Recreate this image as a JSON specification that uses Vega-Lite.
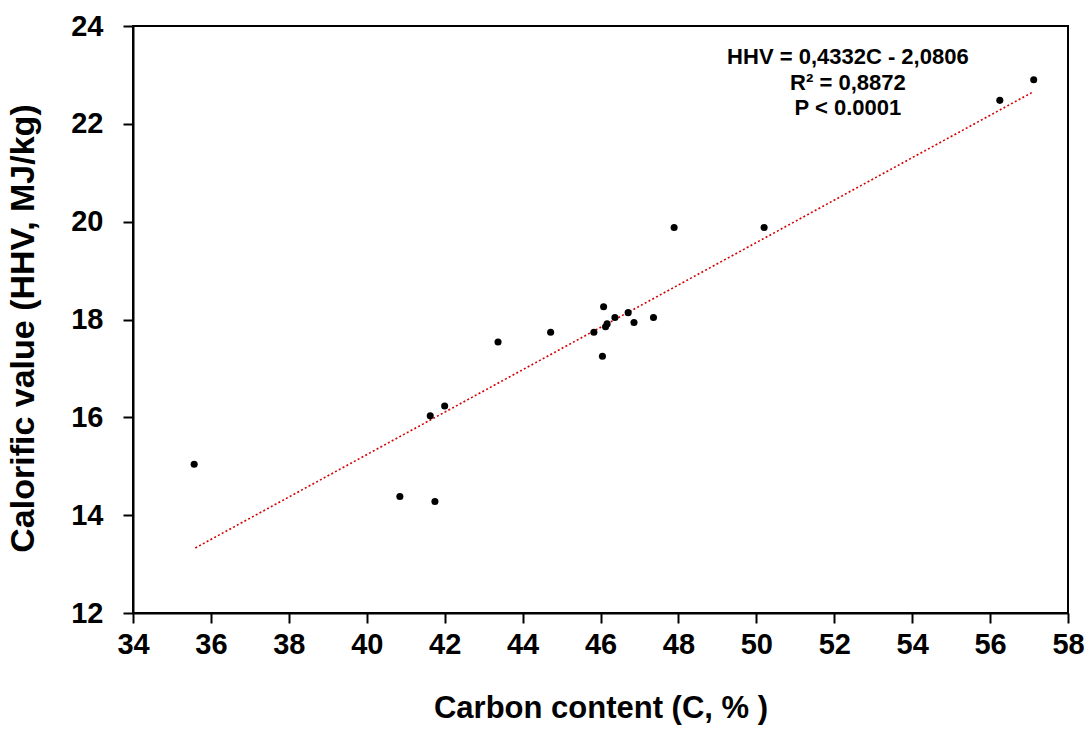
{
  "$schema": "https://vega.github.io/schema/vega-lite/v6.json",
  "autosize": "none",
  "width": 935,
  "height": 587,
  "padding": {"left": 133, "top": 26, "right": 24, "bottom": 118},
  "background": "white",
  "config": {
    "font": "Liberation Sans",
    "view": {"stroke": "black", "strokeWidth": 2},
    "axis": {
      "grid": false,
      "domainColor": "black",
      "domainWidth": 2,
      "tickColor": "black",
      "tickWidth": 2,
      "tickSize": 10,
      "labelFont": "Liberation Sans",
      "labelFontSize": 29,
      "labelFontWeight": "bold",
      "labelColor": "black",
      "titleFont": "Liberation Sans",
      "titleFontWeight": "bold",
      "titleColor": "black"
    }
  },
  "layer": [
    {
      "data": {"values": [
        {"C": 35.6, "HHV": 13.33},
        {"C": 57.12, "HHV": 22.66}
      ]},
      "mark": {"type": "line", "color": "#d40000", "strokeWidth": 1.6, "strokeDash": [2, 2.3]},
      "encoding": {
        "x": {"field": "C", "type": "quantitative", "scale": {"domain": [34, 58], "nice": false, "zero": false},
              "axis": {"values": [34,36,38,40,42,44,46,48,50,52,54,56,58], "title": "Carbon content (C, % )", "titleFontSize": 31, "labelPadding": 7, "titlePadding": 34, "labelFlush": false}},
        "y": {"field": "HHV", "type": "quantitative", "scale": {"domain": [12, 24], "nice": false, "zero": false},
              "axis": {"values": [12,14,16,18,20,22,24], "title": "Calorific value (HHV, MJ/kg)", "titleFontSize": 34, "titleY": 302, "labelPadding": 20, "titlePadding": 30, "labelFlush": false}}
      }
    },
    {
      "data": {"values": [
        {"C": 35.57, "HHV": 15.04},
        {"C": 40.85, "HHV": 14.38},
        {"C": 41.75, "HHV": 14.28},
        {"C": 41.63, "HHV": 16.03},
        {"C": 42.0, "HHV": 16.23},
        {"C": 43.37, "HHV": 17.54},
        {"C": 44.72, "HHV": 17.74},
        {"C": 45.83, "HHV": 17.74},
        {"C": 46.05, "HHV": 17.25},
        {"C": 46.08, "HHV": 18.26},
        {"C": 46.13, "HHV": 17.85},
        {"C": 46.17, "HHV": 17.91},
        {"C": 46.37, "HHV": 18.04},
        {"C": 46.71, "HHV": 18.14},
        {"C": 46.86, "HHV": 17.94},
        {"C": 47.36, "HHV": 18.04},
        {"C": 47.89, "HHV": 19.88},
        {"C": 50.2, "HHV": 19.88},
        {"C": 56.25, "HHV": 22.48},
        {"C": 57.12, "HHV": 22.9}
      ]},
      "mark": {"type": "point", "filled": true, "color": "black", "size": 50, "opacity": 1},
      "encoding": {
        "x": {"field": "C", "type": "quantitative"},
        "y": {"field": "HHV", "type": "quantitative"}
      }
    },
    {
      "data": {"values": [
        {"label": "HHV = 0,4332C  - 2,0806", "C": 52.35, "HHV": 23.37},
        {"label": "R² = 0,8872", "C": 52.35, "HHV": 22.84},
        {"label": "P < 0.0001", "C": 52.35, "HHV": 22.33}
      ]},
      "mark": {"type": "text", "font": "Liberation Sans", "fontSize": 22, "fontWeight": "bold", "color": "black", "align": "center", "baseline": "middle"},
      "encoding": {
        "x": {"field": "C", "type": "quantitative"},
        "y": {"field": "HHV", "type": "quantitative"},
        "text": {"field": "label"}
      }
    }
  ]
}
